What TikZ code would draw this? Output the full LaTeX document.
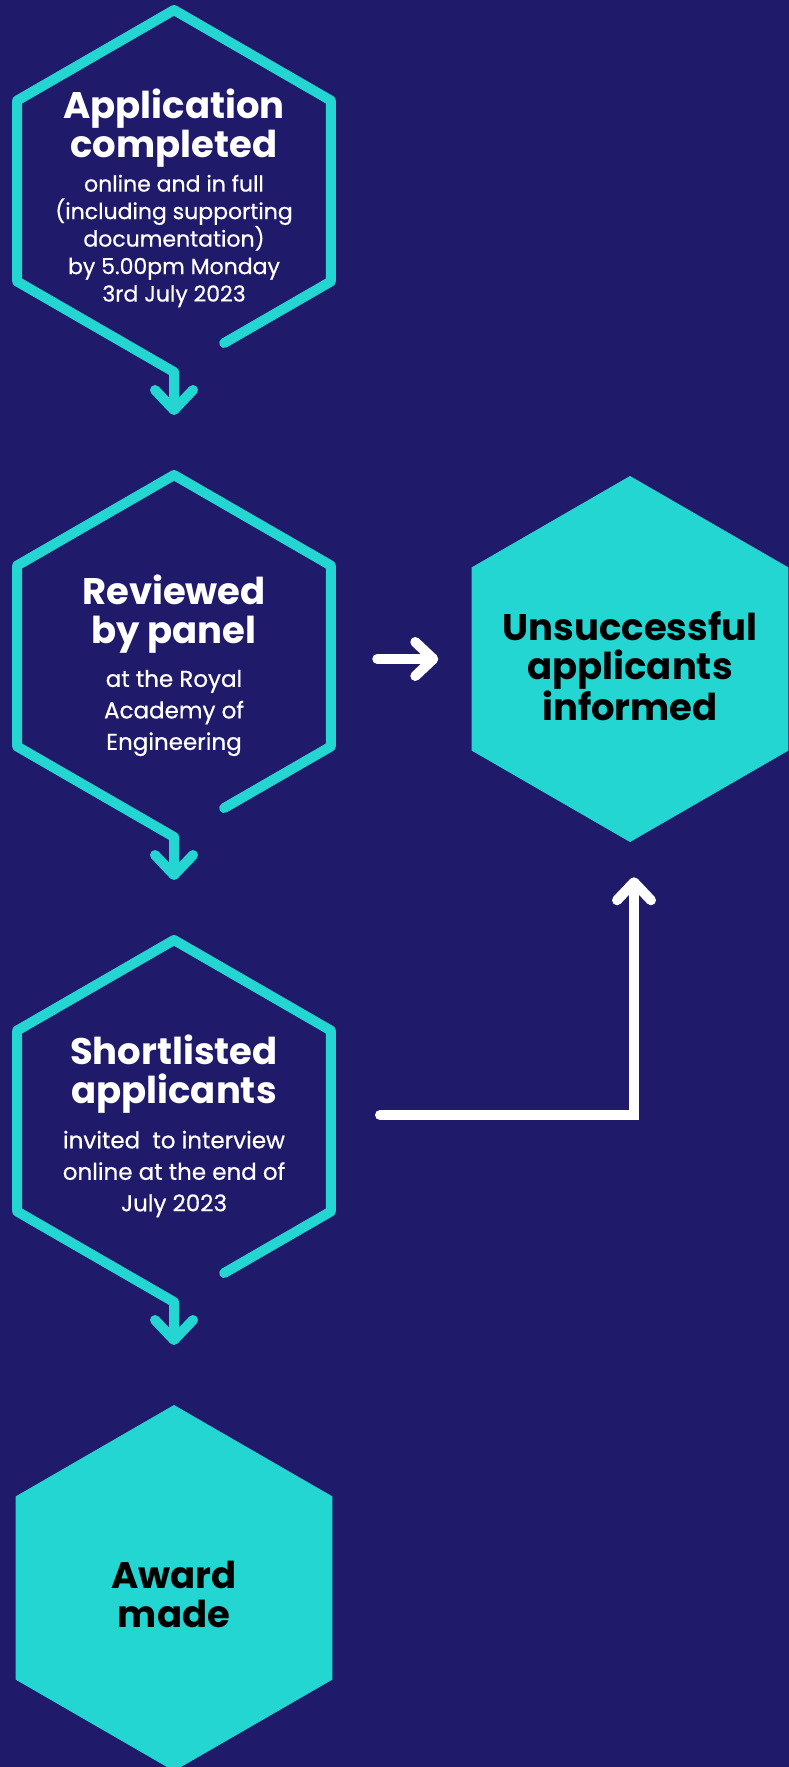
\documentclass[tikz,border=0pt]{standalone}
\usepackage{fontspec}
\setmainfont{Poppins}
\newfontfamily\subfam{Poppins}[FakeBold=0.6]
\usetikzlibrary{calc,positioning,arrows.meta,shapes.geometric}
\definecolor{bgnavy}{RGB}{32,26,107}
\definecolor{hexteal}{RGB}{35,214,210}
\newcommand{\hexhead}{\fontsize{37}{39}\selectfont\bfseries}
\newcommand{\hexsub}{\subfam\fontsize{23}{31.5}\selectfont}

\begin{document}
\begin{tikzpicture}[x=1pt,y=1pt]

\tikzset{hexline/.style={draw=hexteal,line width=10pt,line join=round,line cap=round,-{Straight Barb[round,length=20pt,width=38pt]}},
hexfill/.style={fill=hexteal,regular polygon,regular polygon sides=6,shape border rotate=30,minimum size=366pt,inner sep=0pt},
filltext/.style={align=center,text=black,font=\hexhead},
headtext/.style={align=center,text=white,font=\hexhead},
subtext/.style={align=center,text=white,font=\hexsub},
whitearrow/.style={draw=white,line width=10pt,line cap=round,line join=miter,-{Straight Barb[round,length=18pt,width=34pt]}}}

% Background
\fill[bgnavy] (0,0) rectangle (789,-1767);
\useasboundingbox (0,0) rectangle (789,-1767);

% Hexagon centres
\coordinate (c1) at (174,-191);
\coordinate (c2) at (174,-656);
\coordinate (c3) at (174,-1121);

% Outlined hexagons, running into the arrow down
\foreach \i in {1,2,3} {
  \foreach \a in {30,90,150,210,270,330} \coordinate (c\i-\a) at ($(c\i)+(\a:181)$);
  \coordinate (d\i) at ($(c\i)+(0,-224)$);
  \draw[hexline] ($(c\i-330)!0.68!(c\i-270)$) -- (c\i-330) -- (c\i-30) -- (c\i-90) -- (c\i-150) -- (c\i-210) -- (c\i-270) -- (d\i);
}

% Step texts
\node[headtext] (head1) at ($(c1)+(0,63)$) {Application\\completed};
\node[subtext,font=\subfam\fontsize{22}{27.5}\selectfont] (sub1) at ($(c1)+(0,-50)$) {online and in full\\(including supporting\\documentation)\\by 5.00pm Monday\\3rd July 2023};
\node[headtext] (head2) at ($(c2)+(0,42)$) {Reviewed\\by panel};
\node[subtext] (sub2) at ($(c2)+(0,-57)$) {at the Royal\\Academy of\\Engineering};
\node[headtext] (head3) at ($(c3)+(0,47)$) {Shortlisted\\applicants};
\node[subtext] (sub3) at ($(c3)+(0,-53)$) {invited~ to interview\\online at the end of\\July 2023};

% Filled hexagons
\node[hexfill] (unsucc) at (630,-659) {};
\node[filltext] (unsucc-text) at ($(unsucc)+(0,-7)$) {Unsuccessful\\applicants\\informed};
\node[hexfill] (award) at (174,-1588) {};
\node[filltext] (award-text) at ($(award)+(0,-6)$) {Award\\made};

% White arrows to the unsuccessful step
\coordinate (rev-out) at ($(unsucc.west)+(-94,0)$);
\coordinate (unsucc-in1) at ($(unsucc.west)+(-33,0)$);
\draw[whitearrow] (rev-out) -- (unsucc-in1);
\coordinate (short-out) at ($(c3)+(206,6)$);
\coordinate (unsucc-in2) at ($(unsucc.south)+(4,-35)$);
\draw[whitearrow] (short-out) -| (unsucc-in2);

\end{tikzpicture}
\end{document}
